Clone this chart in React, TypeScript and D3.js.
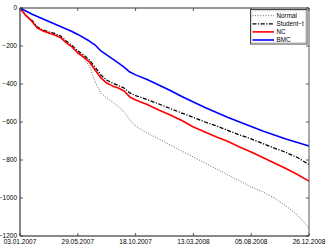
import React from "react";
import * as d3 from "d3";

const dateLabels = ["03.01.2007", "29.05.2007", "18.10.2007", "13.03.2008", "05.08.2008", "26.12.2008"];
const dateTickIdx = [0, 100, 200, 300, 400, 500];
const yTicks = [0, -200, -400, -600, -800, -1000, -1200];

const idxBlue = [0, 20, 40, 60, 80, 90, 100, 120, 130, 140, 150, 160, 170, 180, 190, 200, 220, 240, 260, 280, 300, 320, 340, 360, 380, 400, 420, 440, 460, 480, 500];
const bmc = [0, -32, -58, -84, -111, -124, -139, -174, -195, -226, -247, -268, -289, -311, -337, -352, -376, -405, -434, -466, -495, -524, -550, -576, -600, -624, -647, -668, -689, -708, -726];

const idx = [0, 10, 20, 30, 40, 50, 60, 70, 80, 90, 100, 110, 120, 130, 140, 150, 160, 170, 180, 190, 200, 220, 240, 260, 280, 300, 320, 340, 360, 380, 400, 420, 440, 460, 480, 500];
const nc = [0, -39, -68, -105, -121, -132, -142, -155, -184, -205, -237, -258, -284, -326, -368, -395, -410, -421, -437, -468, -484, -508, -537, -563, -592, -626, -653, -679, -703, -732, -758, -787, -816, -845, -876, -911];
const studentT = [0, -39, -63, -100, -116, -126, -134, -147, -174, -197, -226, -247, -274, -311, -353, -379, -395, -408, -421, -447, -461, -482, -505, -529, -553, -576, -600, -621, -645, -668, -689, -713, -737, -760, -787, -824];
const normal = [0, -39, -68, -105, -121, -132, -142, -158, -179, -205, -232, -263, -305, -389, -447, -474, -495, -518, -547, -589, -621, -658, -689, -721, -753, -784, -816, -847, -879, -910, -942, -968, -1000, -1042, -1089, -1158];

const seriesNames = ["Normal", "Student\u2212t", "NC", "BMC"];

export default function App() {
  const W = 327, H = 246;
  const L = 20, R = 309, T = 8, B = 236;
  const x = d3.scaleLinear().domain([0, 500]).range([L, R]);
  const y = d3.scaleLinear().domain([-1200, 0]).range([B, T]);
  const line = (xs: number[], ys: number[]) =>
    d3.line<number>().x((_, i) => x(xs[i])).y((d) => y(d))(ys) || "";

  const styles = [
    { stroke: "#666", width: 1, dash: "1,1.6" },
    { stroke: "#000", width: 1.3, dash: "4,1.5,1.2,1.5" },
    { stroke: "#ff0000", width: 1.6, dash: "" },
    { stroke: "#0000ff", width: 1.6, dash: "" },
  ];
  const paths = [line(idx, normal), line(idx, studentT), line(idx, nc), line(idxBlue, bmc)];
  const font = "'Liberation Sans', Arial, sans-serif";

  return (
    <svg width={W} height={H} style={{ position: "absolute", left: 0, top: 0, background: "#fff" }} fontFamily={font}>
      <rect x={0} y={0} width={W} height={H} fill="#fff" />
      {paths.map((p, i) => (
        <path key={i} d={p} fill="none" stroke={styles[i].stroke} strokeWidth={styles[i].width}
          strokeDasharray={styles[i].dash || undefined} strokeLinejoin="round" />
      ))}
      {/* frame */}
      <line x1={L} x2={R} y1={T} y2={T} stroke="#333" strokeWidth={1} />
      <line x1={R} x2={R} y1={T} y2={B} stroke="#555" strokeWidth={1} />
      <line x1={L} x2={R} y1={B} y2={B} stroke="#888" strokeWidth={2} />
      <line x1={L} x2={L} y1={T} y2={B} stroke="#888" strokeWidth={2} />
      {dateTickIdx.map((d, i) => (
        <g key={i}>
          <line x1={x(d)} x2={x(d)} y1={B} y2={B - 3} stroke="#333" strokeWidth={0.8} />
          <line x1={x(d)} x2={x(d)} y1={T} y2={T + 3} stroke="#333" strokeWidth={0.8} />
          <text x={x(d)} y={244} fontSize={6.5} textAnchor="middle" fill="#000">{dateLabels[i]}</text>
        </g>
      ))}
      {yTicks.map((v, i) => (
        <g key={i}>
          <line x1={L} x2={L + 3} y1={y(v)} y2={y(v)} stroke="#333" strokeWidth={0.8} />
          <line x1={R} x2={R - 3} y1={y(v)} y2={y(v)} stroke="#333" strokeWidth={0.8} />
          <text x={17} y={y(v) + 2.3} fontSize={6.5} textAnchor="end" fill="#000">{v < 0 ? "\u2212" + Math.abs(v) : String(v)}</text>
        </g>
      ))}
      {/* legend */}
      <rect x={250.5} y={9.5} width={56.5} height={34.5} fill="#fff" stroke="#444" strokeWidth={1} />
      <rect x={251.8} y={10.8} width={54} height={32} fill="none" stroke="#bbb" strokeWidth={0.6} />
      {seriesNames.map((n, i) => {
        const ly = 15.7 + i * 8.1;
        return (
          <g key={n}>
            <line x1={252.5} x2={274} y1={ly} y2={ly} stroke={styles[i].stroke} strokeWidth={styles[i].width}
              strokeDasharray={styles[i].dash || undefined} />
            <text x={276.5} y={ly + 2.3} fontSize={6.3} fill="#000">{n}</text>
          </g>
        );
      })}
    </svg>
  );
}
